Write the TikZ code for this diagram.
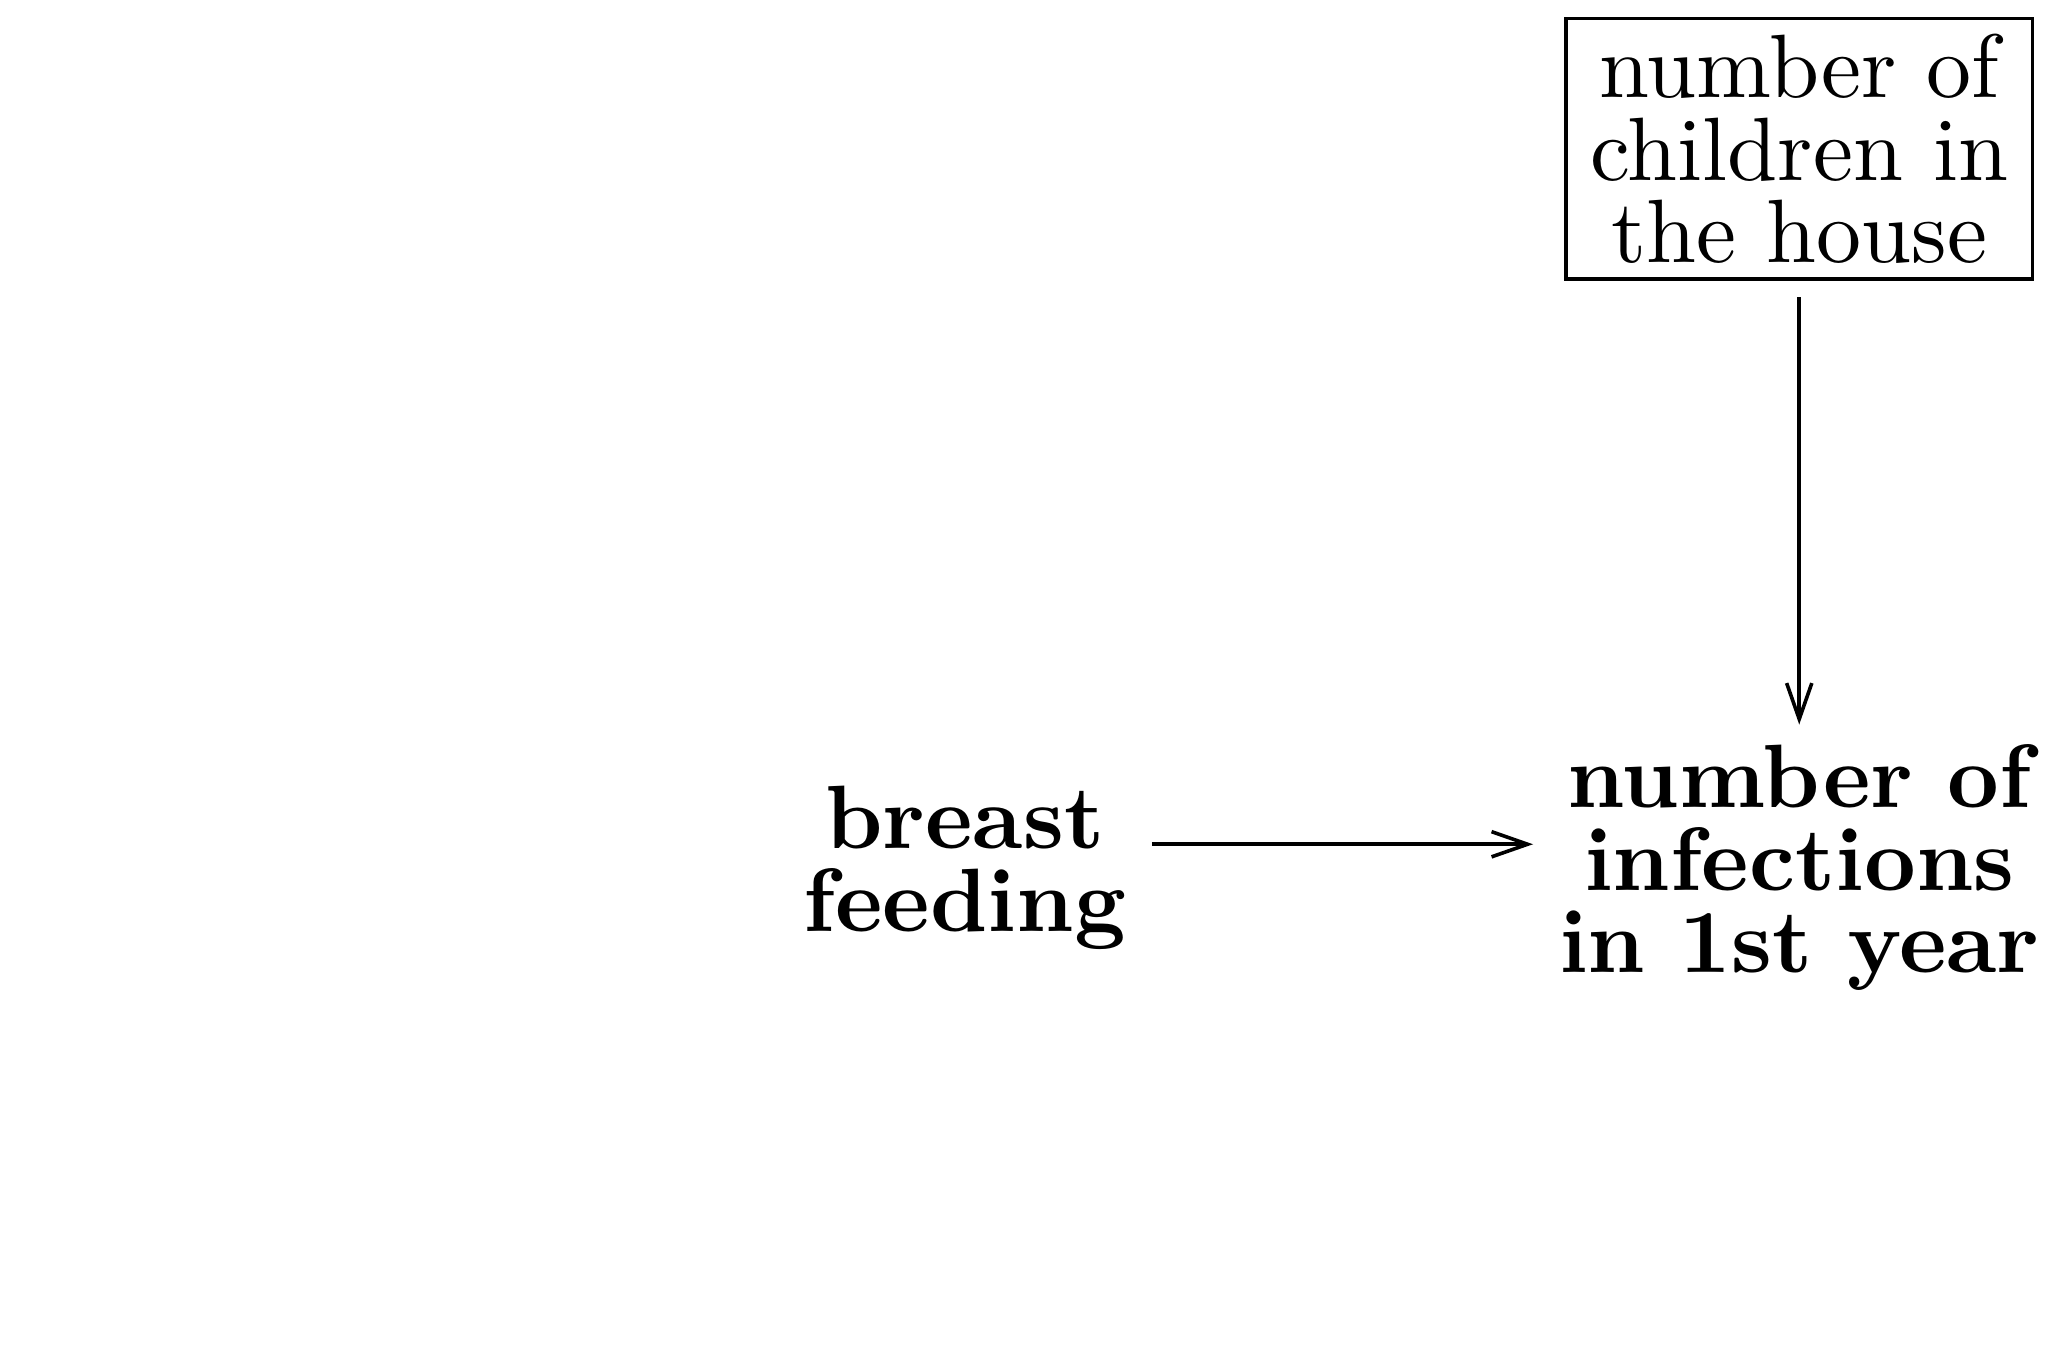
\documentclass[tikz,border=0pt]{standalone}
\usepackage{tikz}
\usetikzlibrary{arrows.meta,positioning}

\begin{document}
\begin{tikzpicture}[x=1pt, y=1pt, >={Straight Barb[length=4pt,width=2.8pt]},
  var/.style={align=center, font=\fontsize{10}{9.2}\selectfont\bfseries, inner xsep=2.7pt, inner ysep=2pt},
  obs/.style={draw, align=center, font=\fontsize{10}{9.2}\selectfont, inner xsep=2.7pt, inner ysep=1.7pt, outer sep=2pt, line width=0.4pt}]
\useasboundingbox (0,0) rectangle (229.1,-152.4);
% Confounder
\node[obs] (kids) at (199.9,-16.55) {number of\\children in\\the house};
% Exposure and outcome
\node[var] (feeding) at (107.2,-96.4) {breast\\feeding};
\node[var] (infect) at (199.9,-96.4) {number of\\infections\\in 1st year};
% Arrows
\draw[->] (kids) -- (infect);
\draw[->] ([yshift=2.6pt]feeding.east) -- ([yshift=2.6pt]infect.west);
\end{tikzpicture}
\end{document}
